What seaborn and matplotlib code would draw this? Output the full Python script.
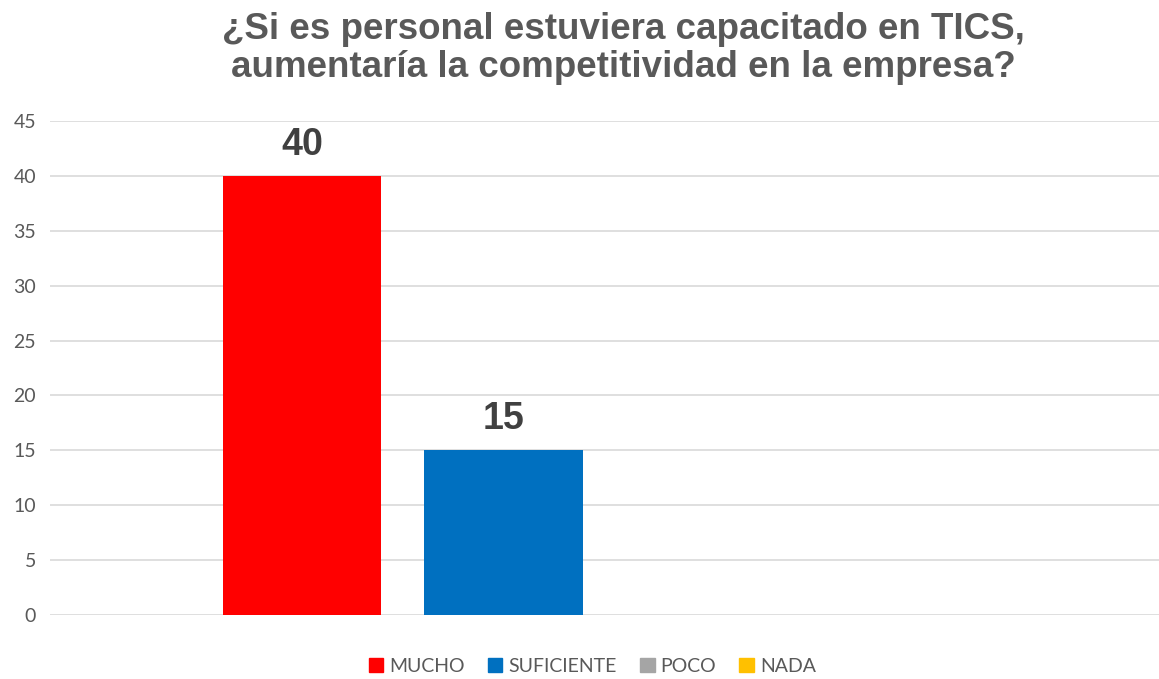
import matplotlib
matplotlib.use("Agg")
import matplotlib.pyplot as plt
import pandas as pd
import seaborn as sns

categorias = ["MUCHO", "SUFICIENTE", "POCO", "NADA"]
valores = [40, 15, 0, 0]
colores = ["#FF0000", "#0070C0", "#A5A5A5", "#FFC000"]
titulo = "¿Si es personal estuviera capacitado en TICS,\naumentaría la competitividad en la empresa?"

df = pd.DataFrame({"respuesta": categorias, "cantidad": valores})

sns.set_style("white")
plt.rcParams["font.family"] = ["Liberation Sans", "DejaVu Sans"]

fig = plt.figure(figsize=(11.59, 6.79), dpi=100)
ax = fig.add_axes([0.0431, 0.0943, 0.9569, 0.7275])

sns.barplot(data=df, x="respuesta", y="cantidad", hue="respuesta",
            palette=colores, order=categorias, width=0.787, legend=False,
            saturation=1, linewidth=0, ax=ax)

ax.set_ylim(0, 45)
ax.set_xlim(-1.25, 4.25)
ax.set_yticks(range(0, 46, 5))
ax.yaxis.grid(True, color="#D9D9D9", linewidth=1.2)
ax.set_axisbelow(True)
for s in ax.spines.values():
    s.set_visible(False)
ax.set_xticks([])
ax.set_xlabel("")
ax.set_ylabel("")
ax.tick_params(axis="y", length=0, labelsize=14, labelcolor="#595959", pad=10)
for lbl in ax.get_yticklabels():
    lbl.set_family(["Lato", "DejaVu Sans"])

# etiquetas de datos solo para barras con valor
for patch, v in zip(ax.patches, valores):
    if v > 0:
        ax.text(patch.get_x() + patch.get_width() / 2, v + 1.2, str(v),
                ha="center", va="bottom", fontsize=27, fontweight="bold",
                color="#404040")

fig.text(0.538, 0.982, titulo, ha="center", va="top", fontsize=26.5,
         fontweight="bold", color="#595959", linespacing=1.1)

handles = [plt.Rectangle((0, 0), 1, 1, color=c) for c in colores]
leg = fig.legend(handles, categorias, loc="center", bbox_to_anchor=(0.511, 0.019),
                 ncol=4, frameon=False, handlelength=0.75, handleheight=0.75,
                 handletextpad=0.3, columnspacing=1.2,
                 prop={"family": ["Lato", "DejaVu Sans"], "size": 14})
for t in leg.get_texts():
    t.set_color("#595959")

fig.savefig("out.png", dpi=100)
